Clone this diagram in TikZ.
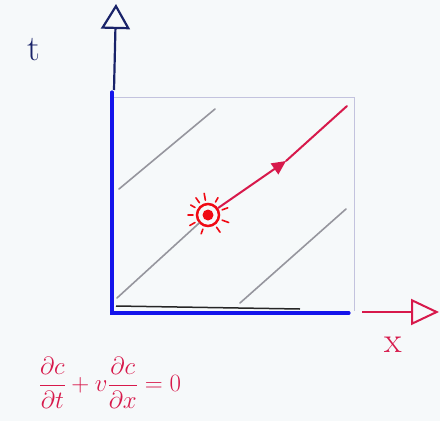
\documentclass[tikz,border=0pt]{standalone}
\usepackage{amsmath}
\usetikzlibrary{arrows.meta,positioning}
\definecolor{paper}{RGB}{246,249,250}
\definecolor{navy}{RGB}{25,35,105}
\definecolor{pureblue}{RGB}{20,20,235}
\definecolor{crimson}{RGB}{215,25,75}
\definecolor{hotred}{RGB}{240,10,20}
\definecolor{pencil}{RGB}{150,150,158}
\definecolor{lilac}{RGB}{195,195,222}

\begin{document}
\begin{tikzpicture}[x=1pt,y=-1pt,
  axis/.style={line width=3.2pt,draw=pureblue,line cap=round},
  charline/.style={line width=1.6pt,draw=pencil,line cap=round},
  ray/.style={line width=1.6pt,draw=hotred,line cap=round},
  lbl/.style={inner sep=0pt,font=\fontsize{36}{36}\selectfont}]
  \useasboundingbox (0,0) rectangle (440,421);
  \fill[paper] (0,0) rectangle (440,421);
  % corners of the domain
  \coordinate (o) at (112,313);
  \coordinate (ytop) at (112,92);
  \coordinate (xend) at (349,313);
  \coordinate (nw) at (112,97);
  \coordinate (ne) at (354,97);
  \coordinate (se) at (354,311);
  % axes
  \draw[lilac,line width=1pt] (nw) -- (ne) -- (se);
  \draw[black!85,line width=1.5pt] (116,306) -- (300,309);
  \draw[axis] (ytop) -- (o) -- (xend);
  \coordinate (yarr0) at (114,90);
  \coordinate (yarr1) at (116,4);
  \draw[navy,line width=2.2pt,-{Triangle[open,length=25pt,width=29pt,line width=2.2pt]}] (yarr0) -- (yarr1);
  \coordinate (xarr0) at (362,312);
  \coordinate (xarr1) at (439,312);
  \draw[crimson,line width=2pt,-{Triangle[open,length=28pt,width=26pt,line width=2pt]}] (xarr0) -- (xarr1);
  % characteristics
  \coordinate (c1a) at (119,189);
  \coordinate (c1b) at (215,109);
  \coordinate (c2a) at (117,298);
  \coordinate (c3a) at (240,303);
  \coordinate (c3b) at (346,209);
  \draw[charline] (c1a) -- (c1b);
  \draw[charline] (c3a) -- (c3b);
  % source point
  \node[circle,draw=hotred,line width=2.5pt,minimum size=22pt,inner sep=0pt] (src) at (208,215) {};
  \draw[charline] (c2a) -- (src);
  \fill[hotred] (src) circle (5.5pt);
  \foreach \ang/\len in {100/7,125/6,150/5,60/5,20/6,-20/7,-55/6,-110/5,-150/6,180/5}
    \draw[ray] ([shift={(\ang:15pt)}]src.center) -- ++(\ang:\len pt);
  % transported signal
  \coordinate (tip) at (286,161);
  \coordinate (rend) at (347,106);
  \draw[crimson,line width=2pt,-{Triangle[length=14pt,width=13pt]}] (src) -- (tip);
  \draw[crimson,line width=2pt,line cap=round] (tip) -- (rend);
  % labels
  \node[lbl,text=navy] (tlabel) at (34,50) {t};
  \node[lbl,text=crimson] (xlabel) at (393,345) {x};
  \node[text=crimson,inner sep=0pt,font=\fontsize{28}{32}\selectfont] (pde) at (110,383)
    {$\displaystyle\frac{\partial c}{\partial t}+v\frac{\partial c}{\partial x}=0$};
\end{tikzpicture}
\end{document}
